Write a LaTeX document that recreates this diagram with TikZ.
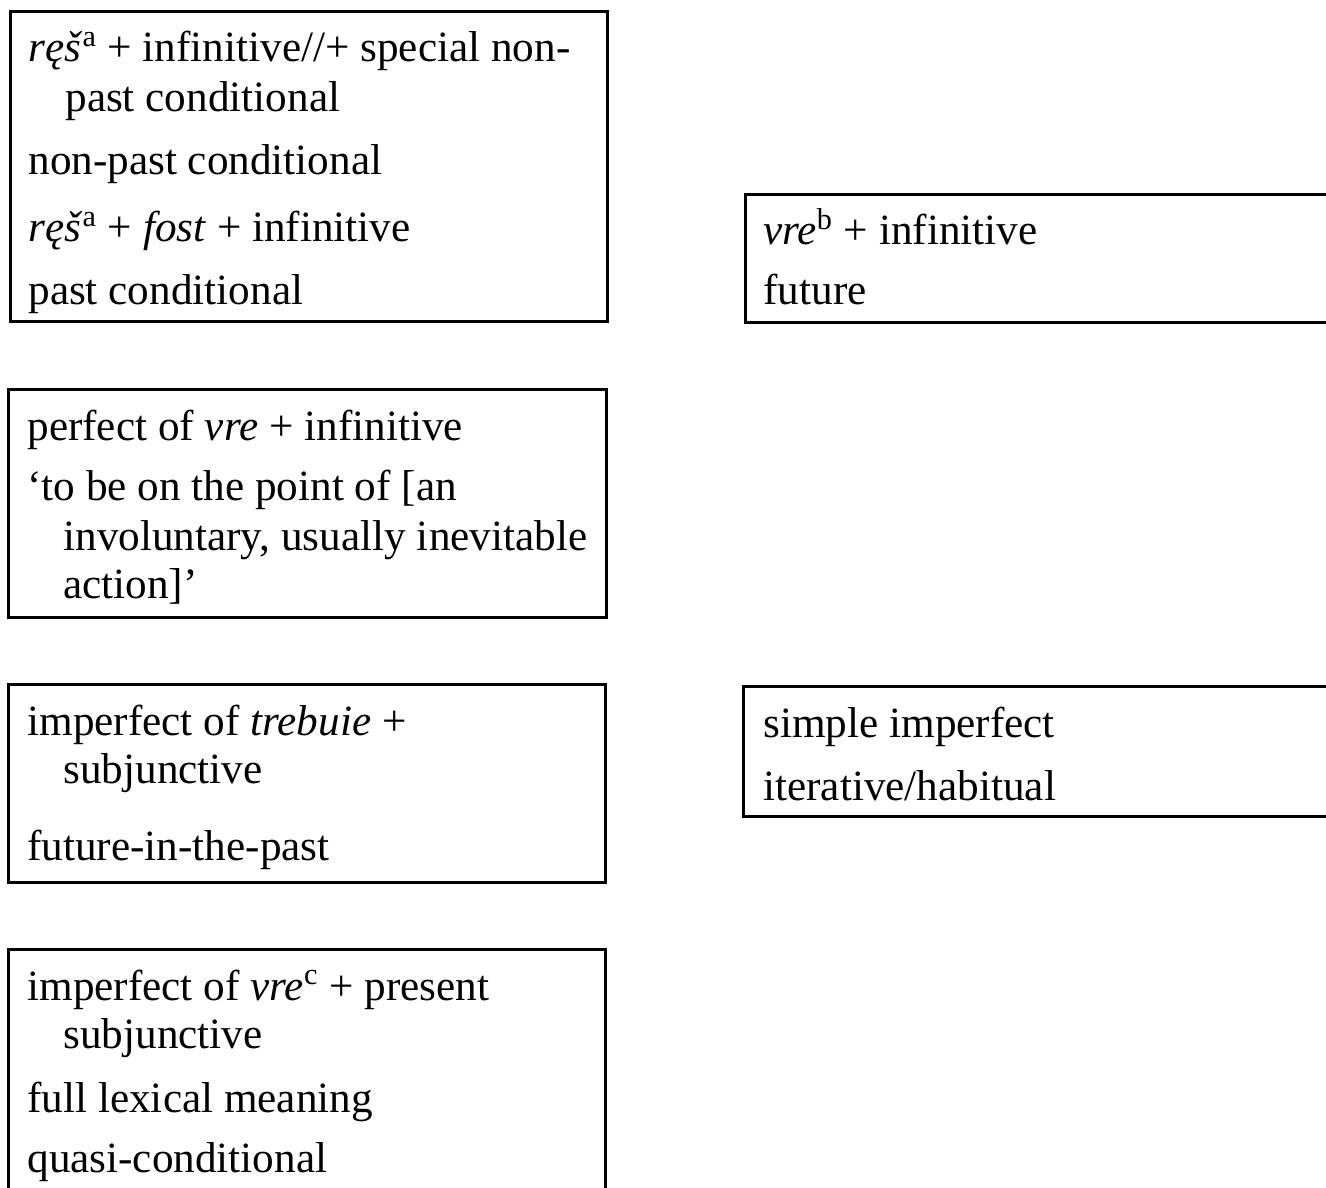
\documentclass[tikz,border=0pt]{standalone}
\usepackage{fontspec}
\setmainfont{Liberation Serif}

\begin{document}
\begin{tikzpicture}[x=0.5pt, y=-0.5pt,
  frame/.style={line width=1.5pt},
  entry/.style={anchor=base west, inner sep=0pt, font=\fontsize{21.6}{26}\selectfont}]
\useasboundingbox (0,0) rectangle (1326,1187);
\clip (0,0) rectangle (1326,1187);

% Conditional forms
\draw[frame] (10,12) rectangle (607,322);
\node[entry] (condA) at (28,62) {\textit{ręš}\textsuperscript{a} + infinitive//+ special non-};
\node[entry] (condB) at (65,112) {past conditional};
\node[entry] (condC) at (28,175) {non-past conditional};
\node[entry] (condD) at (28,242) {\textit{ręš}\textsuperscript{a} + \textit{fost} + infinitive};
\node[entry] (condE) at (28,305) {past conditional};

% Future
\draw[frame] (745,195) rectangle (1340,323);
\node[entry] (futA) at (763,245) {\textit{vre}\textsuperscript{b} + infinitive};
\node[entry] (futB) at (763,305) {future};

% Imminent action
\draw[frame] (8,389) rectangle (606,617);
\node[entry] (immA) at (27,440) {perfect of \textit{vre} + infinitive};
\node[entry] (immB) at (27,500) {‘to be on the point of [an};
\node[entry] (immC) at (63,550) {involuntary, usually inevitable};
\node[entry] (immD) at (63,598) {action]’};

% Future-in-the-past
\draw[frame] (8,684) rectangle (605,882);
\node[entry] (fipA) at (27,735) {imperfect of \textit{trebuie} +};
\node[entry] (fipB) at (63,783) {subjunctive};
\node[entry] (fipC) at (27,860) {future-in-the-past};

% Imperfect
\draw[frame] (743,686) rectangle (1340,816);
\node[entry] (impA) at (763,737) {simple imperfect};
\node[entry] (impB) at (763,800) {iterative/habitual};

% Quasi-conditional
\draw[frame] (8,949) rectangle (605,1200);
\node[entry] (quaA) at (27,1000) {imperfect of \textit{vre}\textsuperscript{c} + present};
\node[entry] (quaB) at (63,1048) {subjunctive};
\node[entry] (quaC) at (27,1112) {full lexical meaning};
\node[entry] (quaD) at (27,1172) {quasi-conditional};
\end{tikzpicture}
\end{document}
